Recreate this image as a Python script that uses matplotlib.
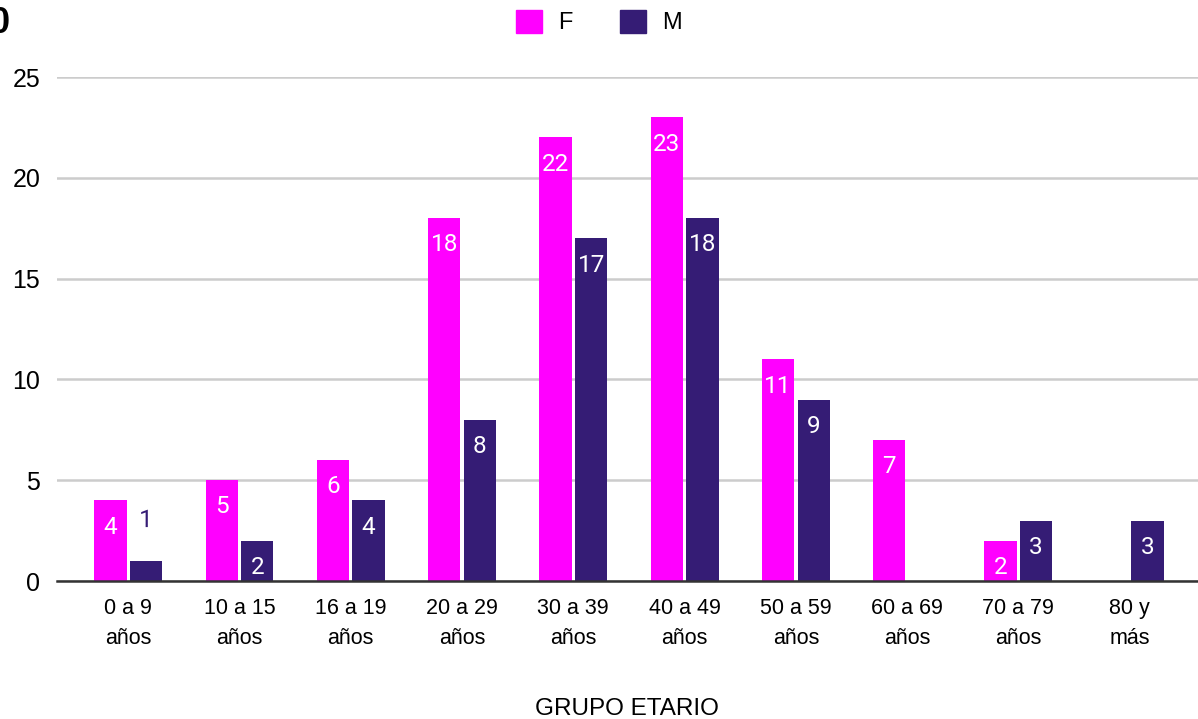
import matplotlib.pyplot as plt
import matplotlib.patheffects as pe
import numpy as np

# data
grupos = ["0 a 9\naños", "10 a 15\naños", "16 a 19\naños", "20 a 29\naños",
          "30 a 39\naños", "40 a 49\naños", "50 a 59\naños", "60 a 69\naños",
          "70 a 79\naños", "80 y\nmás"]
fem = [4, 5, 6, 18, 22, 23, 11, 7, 2, 0]
masc = [1, 2, 4, 8, 17, 18, 9, 0, 3, 3]
y_ticks = [0, 5, 10, 15, 20, 25]

col_f = "#ff00ff"
col_m = "#351c75"

plt.rcParams['font.family'] = ['Liberation Sans', 'DejaVu Sans']

fig = plt.figure(figsize=(11.98, 7.19), dpi=100)
ax = fig.add_axes([0.0476, 0.1919, 0.952, 0.701])

x = np.arange(len(grupos))
w = 0.29
off = 0.16

def draw_series(vals, pos, color):
    for xi, v in zip(pos, vals):
        if v <= 0:
            continue
        ax.bar(xi, v, width=w, color=color, zorder=3)
        if v >= 2:
            ax.annotate(str(v), (xi, v), xytext=(0, -11), textcoords="offset points",
                        ha="center", va="top", color="white", fontsize=17.5,
                        family="Roboto", zorder=4)
        else:
            ax.annotate(str(v), (xi, v), xytext=(0, 29), textcoords="offset points",
                        ha="center", va="center", color=color, fontsize=17.5,
                        family="Roboto", zorder=4,
                        path_effects=[pe.withStroke(linewidth=3, foreground="white")])

draw_series(fem, x - off, col_f)
draw_series(masc, x + off, col_m)

ax.set_xlim(-0.64, 9.61)
ax.set_ylim(0, 25)
ax.set_yticks(y_ticks)
ax.set_xticks(x)
ax.set_xticklabels(grupos, fontsize=15.5, linespacing=1.6)
ax.tick_params(axis="y", labelsize=18, length=0, pad=12)
ax.tick_params(axis="x", length=0, pad=12)
ax.grid(axis="y", color="#cccccc", linewidth=1.8, zorder=0)
ax.set_axisbelow(True)
for s in ["top", "right", "left"]:
    ax.spines[s].set_visible(False)
ax.spines["bottom"].set_color("#333333")
ax.spines["bottom"].set_linewidth(1.8)
ax.spines["bottom"].set_zorder(5)

ax.set_xlabel("GRUPO ETARIO", fontsize=17.5, labelpad=35)

# legend
hf = plt.Rectangle((0, 0), 1, 1, color=col_f)
hm = plt.Rectangle((0, 0), 1, 1, color=col_m)
fig.legend([hf, hm], ["F", "M"], loc="center", bbox_to_anchor=(0.5, 0.969),
           ncol=2, frameon=False, fontsize=17, handlelength=1.1, handleheight=1.1,
           handletextpad=0.7, columnspacing=2.0)

# cut-off glyph at the top left corner
fig.text(-0.009, 0.968, "0", fontsize=26, fontweight="bold", color="black",
         ha="left", va="center")

fig.savefig("out.png", dpi=100)
